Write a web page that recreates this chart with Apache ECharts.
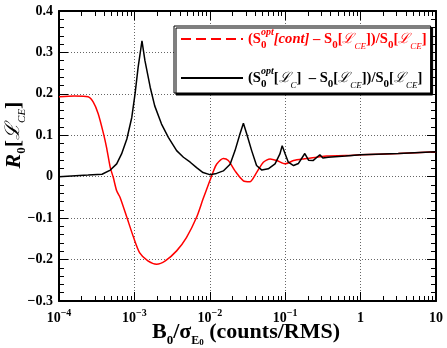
<!DOCTYPE html>
<html>
<head>
<meta charset="utf-8">
<script src="https://cdn.jsdelivr.net/npm/echarts@6/dist/echarts.min.js"></script>
<style>
html,body{margin:0;padding:0;background:#fff;}
#chart{width:447px;height:348px;}
</style>
</head>
<body>
<div id="chart"></div>
<script>
// red curve: (S0opt[cont] - S0[LCE]) / S0[LCE]
var redX = [1e-4, 1.6e-4, 2.43e-4, 2.85e-4, 3.31e-4, 3.89e-4, 4.27e-4, 4.79e-4, 5.25e-4, 5.82e-4, 6.46e-4,
    7.94e-4, 9.77e-4, 1.17e-3, 1.51e-3, 1.97e-3, 2.57e-3, 3.63e-3, 4.90e-3, 6.68e-3, 8.13e-3,
    1.0e-2, 1.12e-2, 1.23e-2, 1.51e-2, 1.76e-2, 2.16e-2, 2.79e-2, 3.39e-2, 4.17e-2, 5.13e-2,
    6.31e-2, 7.76e-2, 0.1, 0.129, 0.174, 0.263, 0.355, 0.631, 1, 3.16, 10];
var redY = [0.193, 0.195, 0.193, 0.18, 0.152, 0.104, 0.071, 0.022, -0.002, -0.034, -0.05,
    -0.098, -0.147, -0.183, -0.203, -0.211, -0.203, -0.179, -0.147, -0.098, -0.054,
    -0.01, 0.014, 0.03, 0.044, 0.039, 0.014, -0.01, -0.012, 0.01, 0.035,
    0.043, 0.039, 0.031, 0.039, 0.043, 0.047, 0.05, 0.051, 0.053, 0.056, 0.06];

// black curve: (S0opt[LC] - S0[LCE]) / S0[LCE]
var blackX = [1e-4, 2.43e-4, 3.72e-4, 4.79e-4, 5.82e-4, 6.76e-4, 7.94e-4, 9.23e-4, 1.02e-3, 1.12e-3,
    1.26e-3, 1.38e-3, 1.62e-3, 1.86e-3, 2.29e-3, 2.82e-3, 3.63e-3, 4.47e-3, 5.50e-3, 6.68e-3,
    8.13e-3, 1.0e-2, 1.23e-2, 1.51e-2, 1.86e-2, 2.16e-2, 2.51e-2, 2.79e-2, 3.09e-2, 3.59e-2,
    4.17e-2, 4.90e-2, 5.96e-2, 7.33e-2, 8.51e-2, 9.12e-2, 0.1, 0.110, 0.129, 0.150,
    0.182, 0.204, 0.234, 0.288, 0.316, 0.372, 0.631, 1, 3.16, 10];
var blackY = [0.0, 0.004, 0.006, 0.016, 0.031, 0.055, 0.091, 0.143, 0.20, 0.264,
    0.328, 0.28, 0.216, 0.171, 0.127, 0.095, 0.063, 0.047, 0.035, 0.022,
    0.01, 0.005, 0.008, 0.014, 0.03, 0.063, 0.103, 0.129, 0.103, 0.063,
    0.027, 0.016, 0.019, 0.031, 0.055, 0.075, 0.055, 0.035, 0.027, 0.032,
    0.056, 0.04, 0.039, 0.053, 0.045, 0.047, 0.05, 0.053, 0.056, 0.06];

var redName = 'red';
var blackName = 'black';

function zip(xs, ys){
    var out = [];
    for (var i = 0; i < xs.length; i++) out.push([xs[i], ys[i]]);
    return out;
}

// minor tick positions 2..9 in each decade
var minorX = [];
for (var e = -4; e <= 0; e++) {
    for (var k = 2; k <= 9; k++) minorX.push(k * Math.pow(10, e));
}

var serif = '"Liberation Serif", "DejaVu Serif", serif';

var legendRich = {
    t: {fontFamily: serif, fontWeight: 'bold', fontSize: 14.6, lineHeight: 24},
    i: {fontFamily: serif, fontWeight: 'bold', fontStyle: 'italic', fontSize: 14.6, lineHeight: 24},
    z: {fontFamily: serif, fontWeight: 'bold', fontSize: 11, lineHeight: 13, verticalAlign: 'bottom', width: 0},
    sup: {fontFamily: serif, fontWeight: 'bold', fontStyle: 'italic', fontSize: 10, lineHeight: 12, verticalAlign: 'top'},
    sb: {fontFamily: serif, fontWeight: 'bold', fontSize: 11, lineHeight: 13, verticalAlign: 'bottom'},
    L: {fontFamily: serif, fontStyle: 'italic', fontSize: 14, lineHeight: 24},
    ls: {fontFamily: serif, fontStyle: 'italic', fontSize: 9, lineHeight: 12, verticalAlign: 'bottom'}
};

var legendText = {};
legendText[redName] = '{t|(S}{z|0}{sup|opt}{i|[cont]}{t| \u2013 S}{sb|0}{t|[}{L|\u2112}{ls|CE}{t|])/S}{sb|0}{t|[}{L|\u2112}{ls|CE}{t|]}';
legendText[blackName] = '{t|(S}{z|0}{sup|opt}{t|[}{L|\u2112}{ls|C}{t|]  \u2013 S}{sb|0}{t|[}{L|\u2112}{ls|CE}{t|])/S}{sb|0}{t|[}{L|\u2112}{ls|CE}{t|]}';

var myChart = echarts.init(document.getElementById('chart'));

var majorX = {
    type: 'log', logBase: 10, min: 1e-4, max: 10, gridIndex: 0
};

option = {
    animation: false,
    backgroundColor: '#fff',
    grid: {left: 59, right: 11, top: 11, bottom: 47, containLabel: false},
    legend: {
        orient: 'vertical',
        left: 174,
        top: 26,
        padding: [1, 4, 3, 6],
        itemGap: 15,
        itemWidth: 62,
        itemHeight: 14,
        backgroundColor: '#fff',
        borderColor: '#000',
        borderWidth: 1,
        shadowColor: '#000',
        shadowBlur: 0,
        shadowOffsetX: 2,
        shadowOffsetY: 2,
        data: [
            {name: redName, itemStyle: {opacity: 0}, lineStyle: {type: [10, 5], width: 2, color: '#ff0000'}, textStyle: {color: '#ff0000'}},
            {name: blackName, itemStyle: {opacity: 0}, lineStyle: {width: 2, color: '#000'}, textStyle: {color: '#000'}}
        ],
        formatter: function(name){ return legendText[name]; },
        textStyle: {rich: legendRich}
    },
    xAxis: [
        Object.assign({}, majorX, {
            position: 'bottom',
            axisLine: {onZero: false, lineStyle: {color: '#000', width: 2}},
            axisTick: {inside: true, length: 9, lineStyle: {color: '#000', width: 1}},
            splitLine: {show: true, lineStyle: {color: '#666', type: [1, 2], width: 1}},
            axisLabel: {
                margin: 7,
                formatter: function(v){
                    var p = Math.round(Math.log10(v));
                    if (p === 0) return '{b|1}';
                    if (p === 1) return '{b|10}';
                    return '{b|10}{s|\u2212' + (-p) + '}';
                },
                rich: {
                    b: {fontFamily: serif, fontWeight: 'bold', fontSize: 14, color: '#000', lineHeight: 20},
                    s: {fontFamily: serif, fontWeight: 'bold', fontSize: 10, color: '#000', lineHeight: 12, verticalAlign: 'top'}
                }
            }
        }),
        Object.assign({}, majorX, {
            position: 'bottom',
            axisLine: {show: false, onZero: false},
            axisTick: {inside: true, length: 5, customValues: minorX, lineStyle: {color: '#000', width: 1}},
            splitLine: {show: false},
            axisLabel: {show: false}
        }),
        Object.assign({}, majorX, {
            position: 'top',
            axisLine: {onZero: false, lineStyle: {color: '#000', width: 2}},
            axisTick: {inside: true, length: 9, lineStyle: {color: '#000', width: 1}},
            splitLine: {show: false},
            axisLabel: {show: false}
        }),
        Object.assign({}, majorX, {
            position: 'top',
            axisLine: {show: false, onZero: false},
            axisTick: {inside: true, length: 5, customValues: minorX, lineStyle: {color: '#000', width: 1}},
            splitLine: {show: false},
            axisLabel: {show: false}
        })
    ],
    yAxis: [
        {
            type: 'value', min: -0.3, max: 0.4, interval: 0.1, position: 'left',
            axisLine: {show: true, onZero: false, lineStyle: {color: '#000', width: 2}},
            axisTick: {inside: true, length: 9, lineStyle: {color: '#000', width: 1}},
            minorTick: {show: true, splitNumber: 5, length: 5, lineStyle: {color: '#000', width: 1}},
            splitLine: {show: true, lineStyle: {color: '#666', type: [1, 2], width: 1}},
            axisLabel: {
                margin: 6,
                fontFamily: serif, fontWeight: 'bold', fontSize: 14, color: '#000',
                formatter: function(v){
                    if (Math.abs(v) < 1e-9) return '0';
                    return (v < 0 ? '\u2212' : '') + Math.abs(v).toFixed(1);
                }
            }
        },
        {
            type: 'value', min: -0.3, max: 0.4, interval: 0.1, position: 'right',
            axisLine: {show: true, onZero: false, lineStyle: {color: '#000', width: 2}},
            axisTick: {inside: true, length: 9, lineStyle: {color: '#000', width: 1}},
            minorTick: {show: true, splitNumber: 5, length: 5, lineStyle: {color: '#000', width: 1}},
            splitLine: {show: false},
            axisLabel: {show: false}
        }
    ],
    graphic: [
        {
            type: 'text',
            x: 14, y: 135,
            rotation: Math.PI / 2,
            style: {
                text: '{R|R}{s|0}{t|[}{L|\u2112}{ls|CE}{t|]}',
                align: 'center', verticalAlign: 'middle', fill: '#000',
                rich: {
                    R: {fontFamily: serif, fontWeight: 'bold', fontStyle: 'italic', fontSize: 22, lineHeight: 28},
                    s: {fontFamily: serif, fontWeight: 'bold', fontSize: 13, lineHeight: 16, verticalAlign: 'bottom'},
                    t: {fontFamily: serif, fontWeight: 'bold', fontSize: 22, lineHeight: 28},
                    L: {fontFamily: serif, fontStyle: 'italic', fontSize: 20, lineHeight: 28},
                    ls: {fontFamily: serif, fontStyle: 'italic', fontSize: 11, lineHeight: 16, verticalAlign: 'bottom'}
                }
            }
        },
        {
            type: 'text',
            x: 246, y: 332,
            style: {
                text: '{t|B}{s|0}{t|/\u03c3}{e|E}{ee|0}{t| (counts/RMS)}',
                align: 'center', verticalAlign: 'middle', fill: '#000',
                rich: {
                    t: {fontFamily: serif, fontWeight: 'bold', fontSize: 22, lineHeight: 30},
                    s: {fontFamily: serif, fontWeight: 'bold', fontSize: 13, lineHeight: 18, verticalAlign: 'bottom'},
                    e: {fontFamily: serif, fontWeight: 'bold', fontSize: 12, lineHeight: 18, verticalAlign: 'bottom'},
                    ee: {fontFamily: serif, fontWeight: 'bold', fontSize: 9, lineHeight: 9, verticalAlign: 'bottom'}
                }
            }
        }
    ],
    series: [
        {
            name: redName,
            type: 'line',
            xAxisIndex: 0, yAxisIndex: 0,
            showSymbol: false, symbol: 'none',
            smooth: 0.25,
            lineStyle: {color: '#ff0000', width: 1.5},
            itemStyle: {color: '#ff0000'},
            data: zip(redX, redY)
        },
        {
            name: blackName,
            type: 'line',
            xAxisIndex: 0, yAxisIndex: 0,
            showSymbol: false, symbol: 'none',
            lineStyle: {color: '#000', width: 1.5},
            itemStyle: {color: '#000'},
            data: zip(blackX, blackY)
        }
    ]
};

myChart.setOption(option);
</script>
</body>
</html>
